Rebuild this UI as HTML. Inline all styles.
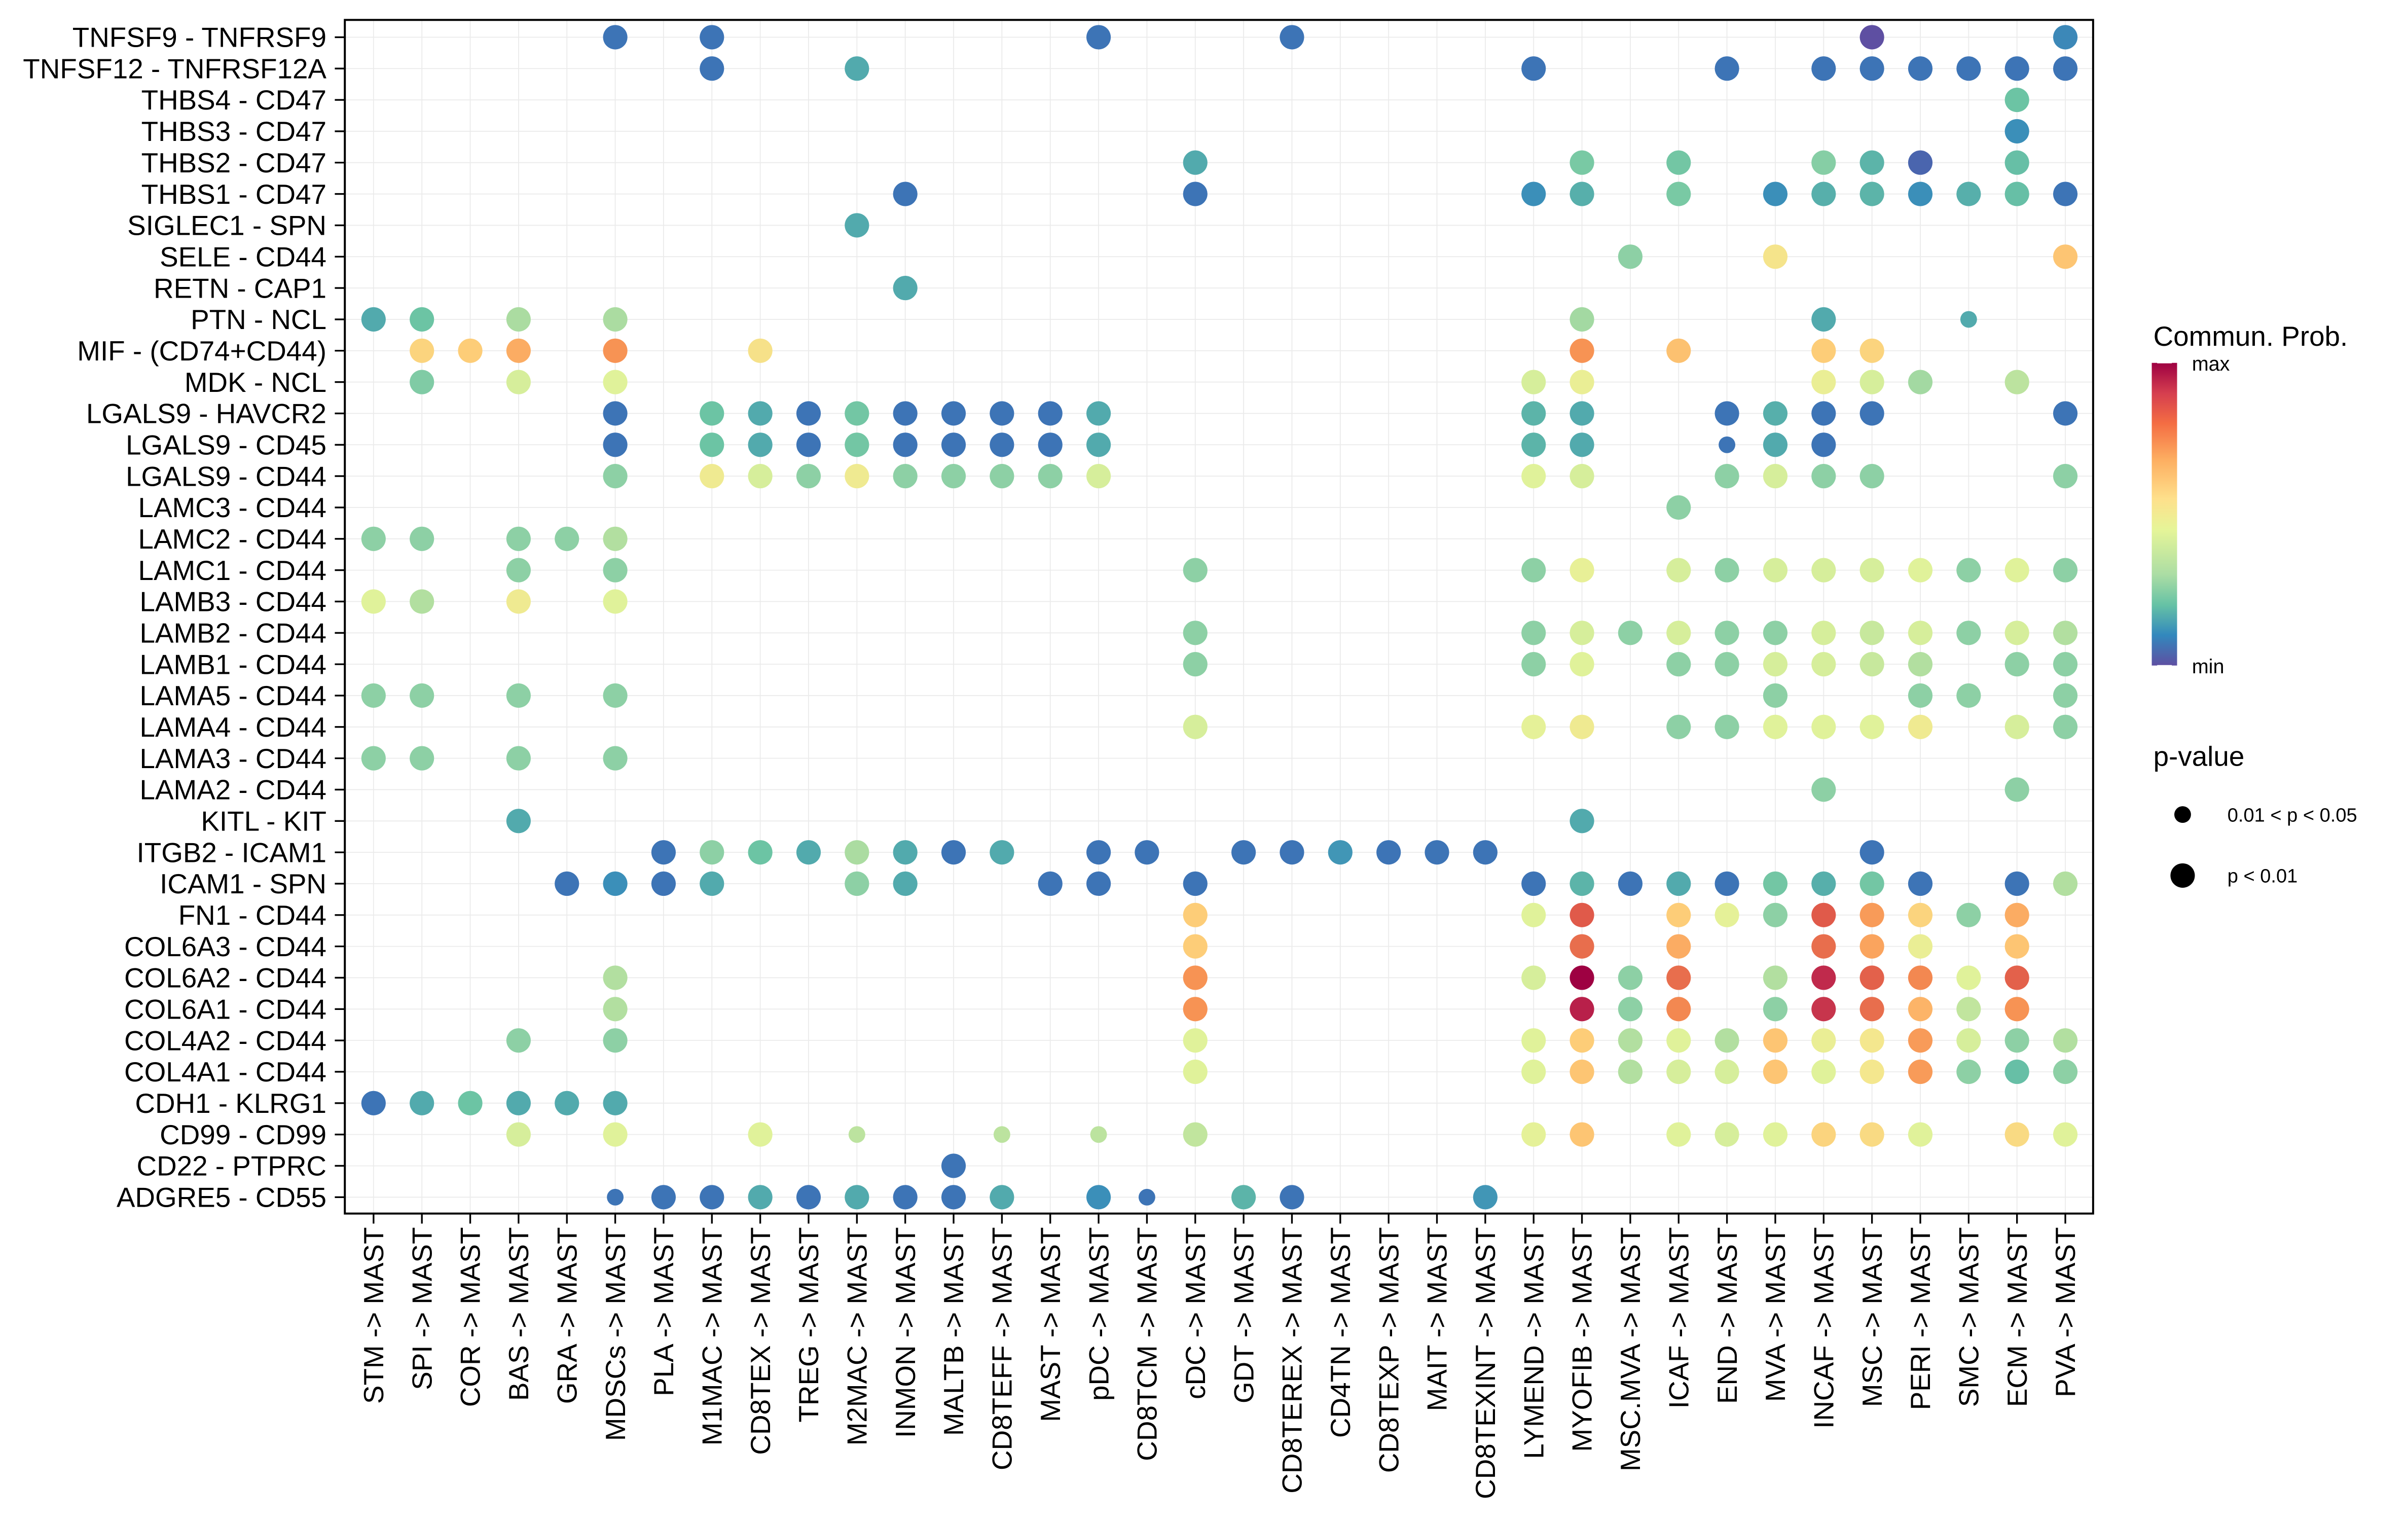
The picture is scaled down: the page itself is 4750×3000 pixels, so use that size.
<!DOCTYPE html>
<html><head><meta charset="utf-8"><style>
html,body{margin:0;padding:0;background:#fff}
svg{display:block}
text{font-family:"Liberation Sans",Arial,sans-serif;fill:#000}
</style></head>
<body>
<svg id="chart" width="4750" height="3000" viewBox="0 0 1560 985" preserveAspectRatio="none" xmlns="http://www.w3.org/2000/svg">
<g id="grid"></g>
<g id="dots"></g>
<rect x="223.4" y="12.9" width="1132.6" height="773" fill="none" stroke="#000" stroke-width="1.3"/>
<g id="yaxis"></g>
<g id="xaxis"></g>
<g id="legend">
  <text x="1395" y="224" font-size="18">Commun. Prob.</text>
  <defs><linearGradient id="cg" x1="0" y1="1" x2="0" y2="0">
    <stop offset="0" stop-color="#5e4fa2"/><stop offset="0.1" stop-color="#3288bd"/><stop offset="0.2" stop-color="#66c2a5"/><stop offset="0.3" stop-color="#abdda4"/><stop offset="0.45" stop-color="#e6f598"/><stop offset="0.55" stop-color="#fee08b"/><stop offset="0.68" stop-color="#fdae61"/><stop offset="0.8" stop-color="#f46d43"/><stop offset="0.9" stop-color="#d53e4f"/><stop offset="1" stop-color="#9e0142"/>
  </linearGradient></defs>
  <rect x="1394" y="235" width="16.4" height="196" fill="url(#cg)"/>
  <line x1="1397.5" x2="1407" y1="235" y2="235" stroke="#fff" stroke-width="0.6"/>
  <line x1="1397.5" x2="1407" y1="431" y2="431" stroke="#fff" stroke-width="0.6"/>
  <text x="1420" y="240" font-size="13">max</text>
  <text x="1420" y="436" font-size="13">min</text>
  <text x="1395" y="496" font-size="18">p-value</text>
  <circle cx="1414" cy="527.5" r="5.4" fill="#000"/>
  <text x="1443" y="532" font-size="12.5">0.01 &lt; p &lt; 0.05</text>
  <circle cx="1414" cy="567" r="7.9" fill="#000"/>
  <text x="1443" y="571.5" font-size="12.5">p &lt; 0.01</text>
</g>
</svg>
<script>
const rows = ["TNFSF9 - TNFRSF9","TNFSF12 - TNFRSF12A","THBS4 - CD47","THBS3 - CD47","THBS2 - CD47","THBS1 - CD47","SIGLEC1 - SPN","SELE - CD44","RETN - CAP1","PTN - NCL","MIF - (CD74+CD44)","MDK - NCL","LGALS9 - HAVCR2","LGALS9 - CD45","LGALS9 - CD44","LAMC3 - CD44","LAMC2 - CD44","LAMC1 - CD44","LAMB3 - CD44","LAMB2 - CD44","LAMB1 - CD44","LAMA5 - CD44","LAMA4 - CD44","LAMA3 - CD44","LAMA2 - CD44","KITL - KIT","ITGB2 - ICAM1","ICAM1 - SPN","FN1 - CD44","COL6A3 - CD44","COL6A2 - CD44","COL6A1 - CD44","COL4A2 - CD44","COL4A1 - CD44","CDH1 - KLRG1","CD99 - CD99","CD22 - PTPRC","ADGRE5 - CD55"];
const cols = ["STM","SPI","COR","BAS","GRA","MDSCs","PLA","M1MAC","CD8TEX","TREG","M2MAC","INMON","MALTB","CD8TEFF","MAST","pDC","CD8TCM","cDC","GDT","CD8TEREX","CD4TN","CD8TEXP","MAIT","CD8TEXINT","LYMEND","MYOFIB","MSC.MVA","ICAF","END","MVA","INCAF","MSC","PERI","SMC","ECM","PVA"].map(c=>c+" -> MAST");
// [row, col, probability(0-1 scaled), significant(1 = p<0.01, 0 = 0.01<p<0.05)]
const dots = [
[0,5,.1,1],[0,7,.1,1],[0,15,.1,1],[0,19,.1,1],[0,31,0,1],[0,35,.13,1],
[1,7,.1,1],[1,10,.18,1],[1,24,.1,1],[1,28,.1,1],[1,30,.1,1],[1,31,.1,1],[1,32,.1,1],[1,33,.1,1],[1,34,.1,1],[1,35,.1,1],
[2,34,.23,1],[3,34,.14,1],
[4,17,.18,1],[4,25,.25,1],[4,27,.24,1],[4,30,.27,1],[4,31,.2,1],[4,32,.06,1],[4,34,.22,1],
[5,11,.1,1],[5,17,.1,1],[5,24,.14,1],[5,25,.19,1],[5,27,.25,1],[5,29,.14,1],[5,30,.19,1],[5,31,.2,1],[5,32,.14,1],[5,33,.19,1],[5,34,.22,1],[5,35,.1,1],
[6,10,.18,1],
[7,26,.28,1],[7,29,.53,1],[7,35,.62,1],
[8,11,.18,1],
[9,0,.18,1],[9,1,.23,1],[9,3,.32,1],[9,5,.32,1],[9,25,.31,1],[9,30,.18,1],[9,33,.18,0],
[10,1,.58,1],[10,2,.6,1],[10,3,.68,1],[10,5,.74,1],[10,8,.54,1],[10,25,.74,1],[10,27,.63,1],[10,30,.6,1],[10,31,.58,1],
[11,1,.26,1],[11,3,.4,1],[11,5,.44,1],[11,24,.4,1],[11,25,.48,1],[11,30,.48,1],[11,31,.4,1],[11,32,.31,1],[11,34,.35,1],
[12,5,.1,1],[12,7,.23,1],[12,8,.18,1],[12,9,.1,1],[12,10,.24,1],[12,11,.1,1],[12,12,.1,1],[12,13,.1,1],[12,14,.1,1],[12,15,.18,1],[12,24,.2,1],[12,25,.18,1],[12,28,.1,1],[12,29,.19,1],[12,30,.1,1],[12,31,.1,1],[12,35,.1,1],
[13,5,.1,1],[13,7,.23,1],[13,8,.18,1],[13,9,.1,1],[13,10,.24,1],[13,11,.1,1],[13,12,.1,1],[13,13,.1,1],[13,14,.1,1],[13,15,.18,1],[13,24,.2,1],[13,25,.18,1],[13,28,.1,0],[13,29,.18,1],[13,30,.1,1],
[14,5,.28,1],[14,7,.5,1],[14,8,.4,1],[14,9,.28,1],[14,10,.5,1],[14,11,.28,1],[14,12,.28,1],[14,13,.28,1],[14,14,.28,1],[14,15,.4,1],[14,24,.44,1],[14,25,.4,1],[14,28,.28,1],[14,29,.4,1],[14,30,.28,1],[14,31,.28,1],[14,35,.28,1],
[15,27,.28,1],
[16,0,.28,1],[16,1,.28,1],[16,3,.28,1],[16,4,.28,1],[16,5,.33,1],
[17,3,.28,1],[17,5,.28,1],[17,17,.28,1],[17,24,.28,1],[17,25,.47,1],[17,27,.4,1],[17,28,.28,1],[17,29,.4,1],[17,30,.4,1],[17,31,.4,1],[17,32,.44,1],[17,33,.28,1],[17,34,.44,1],[17,35,.28,1],
[18,0,.44,1],[18,1,.33,1],[18,3,.5,1],[18,5,.44,1],
[19,17,.28,1],[19,24,.28,1],[19,25,.4,1],[19,26,.28,1],[19,27,.4,1],[19,28,.28,1],[19,29,.28,1],[19,30,.4,1],[19,31,.37,1],[19,32,.4,1],[19,33,.28,1],[19,34,.4,1],[19,35,.33,1],
[20,17,.28,1],[20,24,.28,1],[20,25,.44,1],[20,27,.28,1],[20,28,.28,1],[20,29,.4,1],[20,30,.4,1],[20,31,.37,1],[20,32,.33,1],[20,34,.28,1],[20,35,.28,1],
[21,0,.28,1],[21,1,.28,1],[21,3,.28,1],[21,5,.28,1],[21,29,.28,1],[21,32,.28,1],[21,33,.28,1],[21,35,.28,1],
[22,17,.4,1],[22,24,.46,1],[22,25,.5,1],[22,27,.28,1],[22,28,.28,1],[22,29,.44,1],[22,30,.44,1],[22,31,.44,1],[22,32,.5,1],[22,34,.4,1],[22,35,.28,1],
[23,0,.28,1],[23,1,.28,1],[23,3,.28,1],[23,5,.28,1],
[24,30,.28,1],[24,34,.28,1],
[25,3,.18,1],[25,25,.18,1],
[26,6,.1,1],[26,7,.28,1],[26,8,.23,1],[26,9,.18,1],[26,10,.32,1],[26,11,.18,1],[26,12,.1,1],[26,13,.18,1],[26,15,.1,1],[26,16,.1,1],[26,18,.1,1],[26,19,.1,1],[26,20,.15,1],[26,21,.1,1],[26,22,.1,1],[26,23,.1,1],[26,31,.1,1],
[27,4,.1,1],[27,5,.14,1],[27,6,.1,1],[27,7,.18,1],[27,10,.28,1],[27,11,.18,1],[27,14,.1,1],[27,15,.1,1],[27,17,.1,1],[27,24,.1,1],[27,25,.2,1],[27,26,.1,1],[27,27,.18,1],[27,28,.1,1],[27,29,.24,1],[27,30,.19,1],[27,31,.24,1],[27,32,.1,1],[27,34,.1,1],[27,35,.33,1],
[28,17,.6,1],[28,24,.44,1],[28,25,.83,1],[28,27,.6,1],[28,28,.46,1],[28,29,.28,1],[28,30,.83,1],[28,31,.72,1],[28,32,.58,1],[28,33,.28,1],[28,34,.68,1],
[29,17,.6,1],[29,25,.8,1],[29,27,.68,1],[29,30,.8,1],[29,31,.7,1],[29,32,.48,1],[29,34,.62,1],
[30,5,.33,1],[30,17,.74,1],[30,24,.4,1],[30,25,1,1],[30,26,.28,1],[30,27,.8,1],[30,29,.33,1],[30,30,.92,1],[30,31,.82,1],[30,32,.76,1],[30,33,.44,1],[30,34,.82,1],
[31,5,.33,1],[31,17,.74,1],[31,25,.94,1],[31,26,.28,1],[31,27,.76,1],[31,29,.28,1],[31,30,.9,1],[31,31,.8,1],[31,32,.66,1],[31,33,.36,1],[31,34,.74,1],
[32,3,.28,1],[32,5,.28,1],[32,17,.44,1],[32,24,.44,1],[32,25,.6,1],[32,26,.33,1],[32,27,.44,1],[32,28,.33,1],[32,29,.62,1],[32,30,.48,1],[32,31,.52,1],[32,32,.72,1],[32,33,.4,1],[32,34,.28,1],[32,35,.33,1],
[33,17,.44,1],[33,24,.44,1],[33,25,.62,1],[33,26,.33,1],[33,27,.4,1],[33,28,.4,1],[33,29,.62,1],[33,30,.44,1],[33,31,.52,1],[33,32,.72,1],[33,33,.28,1],[33,34,.22,1],[33,35,.28,1],
[34,0,.1,1],[34,1,.18,1],[34,2,.23,1],[34,3,.18,1],[34,4,.18,1],[34,5,.18,1],
[35,3,.4,1],[35,5,.44,1],[35,8,.44,1],[35,10,.35,0],[35,13,.35,0],[35,15,.35,0],[35,17,.36,1],[35,24,.46,1],[35,25,.62,1],[35,27,.44,1],[35,28,.4,1],[35,29,.44,1],[35,30,.58,1],[35,31,.56,1],[35,32,.44,1],[35,34,.56,1],[35,35,.44,1],
[36,12,.1,1],
[37,5,.1,0],[37,6,.1,1],[37,7,.1,1],[37,8,.18,1],[37,9,.1,1],[37,10,.18,1],[37,11,.1,1],[37,12,.1,1],[37,13,.18,1],[37,15,.14,1],[37,16,.1,0],[37,18,.2,1],[37,19,.1,1],[37,23,.15,1]
];
const NS="http://www.w3.org/2000/svg";
const x0=242, x1=1338, y0=24.1, y1=775.3, L=223.4, R=1356, T=12.9, B=785.9;
function xScale(i){return x0+i*(x1-x0)/(cols.length-1);}
function yScale(i){return y0+i*(y1-y0)/(rows.length-1);}
const stops=[[0,"#5e4fa2"],[.1,"#3d74b6"],[.14,"#3b8fb9"],[.18,"#52aaad"],[.23,"#6cc4a4"],[.28,"#8dd0a5"],[.33,"#b2dfa0"],[.4,"#d6ee9b"],[.45,"#e3f39a"],[.52,"#f4e78e"],[.6,"#fdcd78"],[.68,"#fbac63"],[.75,"#f68f52"],[.83,"#e05a4a"],[.92,"#c02a4c"],[1,"#9e0142"]];
function hex(h){return [1,3,5].map(k=>parseInt(h.substr(k,2),16));}
function color(v){
  for(let k=1;k<stops.length;k++){
    if(v<=stops[k][0]){const a=stops[k-1],b=stops[k];const t=(v-a[0])/(b[0]-a[0]);const ca=hex(a[1]),cb=hex(b[1]);
      return "rgb("+ca.map((c,j)=>Math.round(c+(cb[j]-c)*t)).join(",")+")";}
  }
  return stops[stops.length-1][1];
}
const grid=document.getElementById("grid");
cols.forEach((c,i)=>{const l=document.createElementNS(NS,"line");l.setAttribute("x1",xScale(i));l.setAttribute("x2",xScale(i));l.setAttribute("y1",T);l.setAttribute("y2",B);l.setAttribute("stroke","#ebebeb");l.setAttribute("stroke-width","0.6");


grid.appendChild(l);});
rows.forEach((r,i)=>{const l=document.createElementNS(NS,"line");l.setAttribute("y1",yScale(i));l.setAttribute("y2",yScale(i));l.setAttribute("x1",L);l.setAttribute("x2",R);l.setAttribute("stroke","#ebebeb");l.setAttribute("stroke-width","0.6");


grid.appendChild(l);});
const yg=document.getElementById("yaxis");
rows.forEach((r,i)=>{const t=document.createElementNS(NS,"text");t.setAttribute("x",211.5);t.setAttribute("y",yScale(i)+6.3);t.setAttribute("text-anchor","end");t.setAttribute("font-size","18");t.textContent=r;


yg.appendChild(t);
const k=document.createElementNS(NS,"line");k.setAttribute("x1",L-6.5);k.setAttribute("x2",L);k.setAttribute("y1",yScale(i));k.setAttribute("y2",yScale(i));k.setAttribute("stroke","#000");k.setAttribute("stroke-width","1.1");


yg.appendChild(k);});
const xg=document.getElementById("xaxis");
cols.forEach((c,i)=>{const x=xScale(i);const t=document.createElementNS(NS,"text");t.setAttribute("transform","translate("+(x+6.3)+",794.7) rotate(-90)");t.setAttribute("text-anchor","end");t.setAttribute("font-size","18");t.textContent=c;


xg.appendChild(t);
const k=document.createElementNS(NS,"line");k.setAttribute("x1",x);k.setAttribute("x2",x);k.setAttribute("y1",B);k.setAttribute("y2",B+6.5);k.setAttribute("stroke","#000");k.setAttribute("stroke-width","1.1");


xg.appendChild(k);});
const dg=document.getElementById("dots");
dots.forEach(d=>{const c=document.createElementNS(NS,"circle");c.setAttribute("cx",xScale(d[1]));c.setAttribute("cy",yScale(d[0]));c.setAttribute("r",d[3]?7.9:5.4);c.setAttribute("fill",color(d[2]));


dg.appendChild(c);});
</script>
</body></html>
